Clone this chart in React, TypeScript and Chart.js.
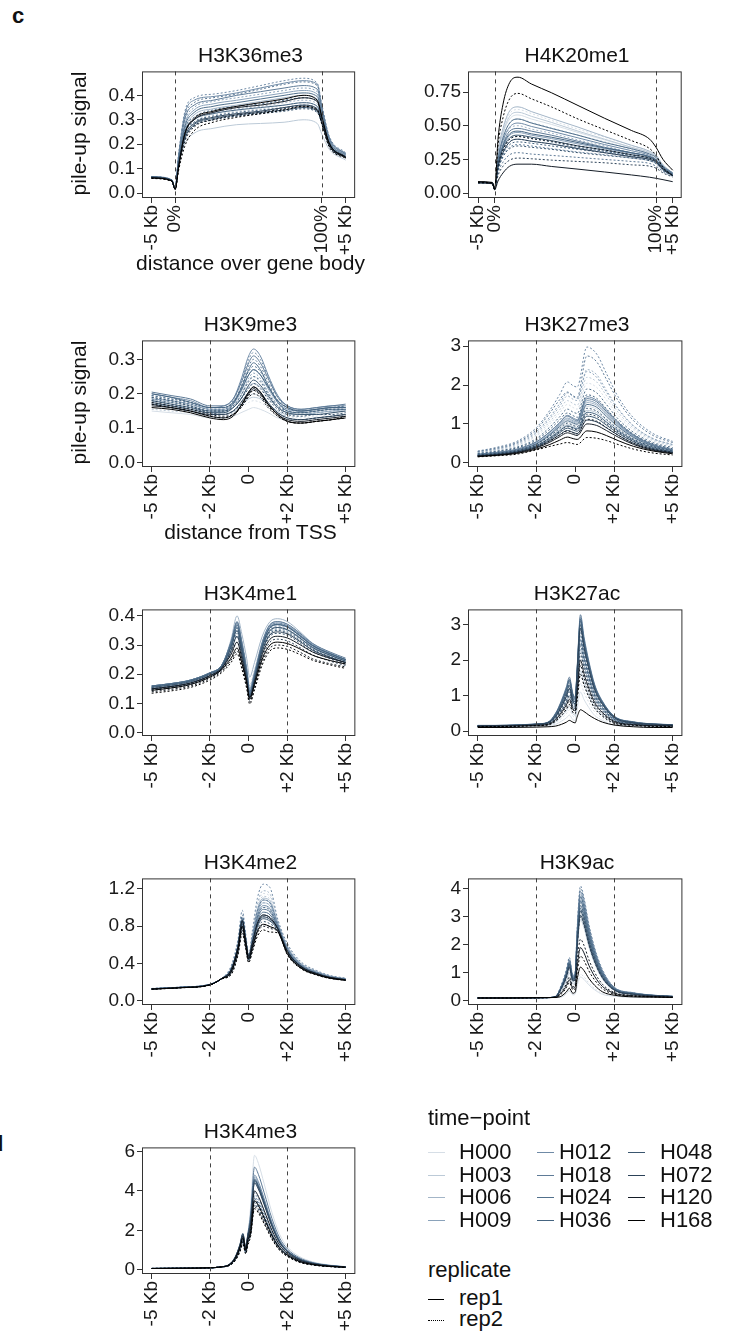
import React, { useEffect, useRef } from 'react';
import { Chart, registerables } from 'chart.js';

Chart.register(...registerables);

const FONT = '"Liberation Sans", Arial, Helvetica, sans-serif';

const TIME_POINTS = ['H000', 'H003', 'H006', 'H009', 'H012', 'H018', 'H024', 'H036', 'H048', 'H072', 'H120', 'H168'];
const REPLICATES = ['rep1', 'rep2'];
const TP_COLORS = ['#d6dee6', '#bccad7', '#a3b5c7', '#8aa2ba', '#6f8aa6', '#5f7b97', '#51708c', '#456480', '#3a566f', '#2c4258', '#141c26', '#000000'];

const TSS_TICKS = [-5, -2, 0, 2, 5];
const TSS_LABELS = ['-5 Kb', '-2 Kb', '0', '+2 Kb', '+5 Kb'];
const BODY_LABELS = ['-5 Kb', '0%', '100%', '+5 Kb'];
const BODY1_TICKS = [0, 5, 36, 41];
const BODY2_TICKS = [0, 5, 53.4, 58.4];

// ---------- H3K36me3 (gene body) ----------
const X_H3K36ME3 = [0, 4.3, 5, 5.7, 7, 9, 13, 18, 23, 28, 32, 35, 36, 37.5, 41];
const Y_H3K36ME3 = [0, 0.1, 0.2, 0.3, 0.4];
const H3K36ME3 = [
  [.068, .055, .02, .12, .23, .28, .31, .325, .335, .35, .36, .345, .29, .2, .15],
  [.066, .054, .019, .13, .25, .31, .34, .355, .365, .38, .39, .375, .31, .21, .155],
  [.065, .052, .017, .11, .2, .245, .265, .28, .285, .29, .30, .285, .24, .18, .135],
  [.067, .055, .02, .12, .24, .29, .32, .335, .345, .36, .37, .355, .3, .2, .15],
  [.066, .053, .018, .13, .26, .32, .345, .36, .375, .39, .40, .385, .32, .21, .155],
  [.068, .054, .02, .12, .24, .3, .33, .345, .355, .37, .38, .365, .31, .205, .15],
  [.067, .054, .019, .14, .28, .34, .365, .38, .395, .41, .42, .405, .33, .215, .16],
  [.065, .052, .018, .14, .29, .35, .375, .39, .405, .42, .43, .415, .335, .22, .16],
  [.066, .053, .019, .15, .32, .38, .395, .41, .43, .45, .46, .445, .35, .23, .16],
  [.068, .055, .02, .15, .33, .39, .405, .42, .44, .46, .47, .45, .36, .235, .165],
  [.067, .054, .019, .14, .3, .36, .38, .4, .415, .43, .44, .425, .345, .225, .16],
  [.066, .053, .018, .15, .31, .37, .39, .405, .425, .445, .455, .44, .35, .23, .16],
  [.064, .052, .017, .13, .27, .33, .355, .37, .385, .40, .41, .395, .325, .215, .155],
  [.065, .052, .018, .13, .26, .31, .34, .355, .365, .38, .39, .375, .315, .21, .15],
  [.066, .053, .018, .12, .25, .3, .325, .34, .35, .36, .37, .355, .3, .205, .15],
  [.065, .052, .018, .12, .24, .29, .315, .33, .34, .35, .36, .345, .295, .2, .148],
  [.064, .051, .017, .11, .22, .28, .305, .32, .33, .34, .35, .335, .29, .2, .146],
  [.063, .05, .017, .11, .22, .275, .3, .315, .325, .335, .345, .33, .285, .195, .145],
  [.065, .052, .017, .11, .23, .285, .31, .325, .335, .35, .36, .345, .29, .2, .147],
  [.064, .051, .017, .1, .22, .275, .3, .315, .325, .34, .35, .335, .285, .195, .145],
  [.062, .05, .016, .11, .24, .3, .33, .35, .36, .375, .39, .375, .305, .205, .148],
  [.061, .049, .016, .1, .21, .27, .3, .32, .33, .345, .355, .34, .285, .195, .143],
  [.062, .05, .016, .1, .24, .305, .335, .355, .37, .385, .40, .38, .31, .205, .145],
  [.06, .048, .015, .09, .19, .255, .29, .31, .325, .34, .355, .34, .28, .19, .142],
];

// ---------- H4K20me1 (gene body) ----------
const X_H4K20ME1 = [0, 4.3, 5, 6, 7.5, 9.5, 12, 16, 22, 30, 38, 46, 51.5, 53.4, 55.5, 58.4];
const Y_H4K20ME1 = [0, 0.25, 0.5, 0.75];
const H4K20ME1 = [
  [.08, .074, .03, .27, .44, .55, .58, .55, .51, .45, .395, .34, .30, .27, .2, .145],
  [.075, .07, .028, .29, .47, .59, .62, .59, .54, .475, .415, .355, .31, .28, .21, .15],
  [.078, .073, .03, .28, .45, .57, .60, .57, .525, .46, .4, .34, .30, .27, .2, .145],
  [.077, .072, .029, .26, .42, .52, .55, .525, .485, .43, .38, .325, .29, .26, .195, .14],
  [.08, .075, .03, .3, .48, .61, .64, .605, .555, .49, .42, .355, .31, .28, .21, .15],
  [.076, .071, .028, .23, .38, .48, .50, .475, .445, .395, .35, .3, .27, .245, .185, .135],
  [.078, .073, .029, .21, .34, .43, .45, .43, .405, .365, .33, .295, .27, .245, .19, .145],
  [.078, .073, .03, .19, .3, .38, .40, .385, .365, .335, .31, .28, .26, .24, .185, .14],
  [.079, .074, .03, .24, .39, .49, .52, .495, .46, .41, .36, .315, .28, .25, .19, .14],
  [.077, .072, .029, .17, .27, .34, .36, .35, .33, .305, .285, .26, .24, .22, .17, .13],
  [.08, .075, .03, .22, .36, .46, .48, .46, .43, .385, .34, .3, .27, .245, .19, .14],
  [.076, .071, .028, .15, .23, .285, .30, .29, .28, .265, .25, .235, .22, .2, .16, .125],
  [.082, .077, .031, .25, .41, .52, .55, .52, .48, .43, .375, .33, .29, .265, .2, .15],
  [.077, .072, .029, .2, .32, .4, .42, .405, .38, .34, .31, .275, .25, .23, .175, .13],
  [.081, .076, .031, .21, .35, .44, .46, .44, .415, .375, .335, .3, .27, .245, .19, .14],
  [.079, .074, .03, .18, .29, .36, .38, .37, .35, .325, .3, .27, .25, .23, .18, .135],
  [.079, .074, .03, .2, .33, .41, .43, .415, .39, .35, .32, .285, .26, .24, .18, .135],
  [.078, .073, .03, .17, .27, .33, .35, .34, .325, .3, .28, .26, .24, .22, .17, .13],
  [.081, .076, .031, .19, .3, .38, .40, .385, .365, .33, .3, .27, .25, .23, .175, .13],
  [.079, .074, .03, .13, .2, .245, .26, .255, .245, .235, .225, .21, .20, .185, .15, .12],
  [.075, .07, .025, .09, .15, .2, .215, .215, .198, .178, .157, .135, .118, .11, .1, .085],
  [.08, .075, .03, .2, .32, .4, .42, .405, .385, .35, .32, .285, .26, .235, .18, .13],
  [.085, .08, .03, .4, .66, .82, .86, .81, .745, .65, .555, .465, .40, .34, .25, .17],
  [.08, .076, .028, .35, .56, .70, .74, .70, .64, .55, .47, .39, .33, .28, .19, .13],
];

// ---------- H3K9me3 (TSS) ----------
const X_H3K9ME3 = [-5, -4, -3, -2, -1.3, -0.8, -0.4, 0, 0.25, 0.6, 1, 1.5, 2, 2.7, 3.5, 4.3, 5];
const Y_H3K9ME3 = [0, 0.1, 0.2, 0.3];
const H3K9ME3 = [
  [.15, .145, .14, .13, .13, .135, .145, .155, .16, .155, .145, .13, .125, .125, .13, .135, .14],
  [.16, .155, .15, .14, .14, .145, .16, .175, .18, .175, .16, .145, .135, .13, .135, .14, .145],
  [.17, .165, .155, .145, .145, .15, .165, .185, .19, .185, .17, .15, .14, .14, .145, .15, .15],
  [.155, .15, .145, .135, .135, .145, .165, .19, .20, .19, .17, .15, .135, .135, .14, .145, .15],
  [.18, .175, .165, .15, .15, .16, .185, .22, .23, .22, .19, .16, .145, .14, .145, .15, .155],
  [.19, .18, .17, .155, .155, .165, .195, .24, .25, .24, .205, .17, .15, .145, .15, .155, .16],
  [.185, .18, .17, .155, .155, .17, .205, .255, .27, .255, .215, .175, .155, .15, .155, .16, .16],
  [.17, .165, .16, .145, .145, .16, .195, .245, .26, .245, .205, .165, .145, .14, .145, .15, .155],
  [.2, .19, .18, .16, .165, .185, .24, .31, .33, .31, .255, .195, .165, .155, .16, .165, .165],
  [.195, .185, .175, .16, .16, .18, .235, .3, .32, .3, .25, .19, .16, .15, .155, .16, .165],
  [.205, .195, .185, .165, .165, .185, .23, .29, .31, .29, .245, .19, .165, .155, .16, .165, .17],
  [.19, .18, .17, .155, .155, .175, .22, .28, .30, .28, .235, .18, .155, .15, .155, .16, .16],
  [.18, .17, .16, .15, .15, .17, .215, .27, .29, .27, .225, .175, .15, .145, .15, .155, .155],
  [.195, .185, .175, .16, .16, .175, .215, .265, .28, .265, .225, .18, .16, .15, .155, .16, .165],
  [.2, .19, .175, .16, .16, .175, .21, .255, .27, .255, .22, .18, .16, .15, .155, .16, .16],
  [.185, .175, .165, .15, .15, .165, .195, .235, .25, .235, .2, .165, .15, .145, .15, .155, .155],
  [.175, .165, .155, .145, .145, .16, .185, .225, .24, .225, .195, .16, .145, .14, .14, .145, .15],
  [.19, .18, .165, .15, .15, .16, .185, .215, .23, .215, .185, .155, .14, .135, .14, .14, .145],
  [.17, .16, .15, .14, .14, .15, .175, .205, .22, .205, .175, .145, .13, .125, .13, .135, .14],
  [.18, .17, .16, .145, .14, .15, .17, .2, .21, .2, .17, .145, .13, .125, .13, .135, .14],
  [.165, .16, .15, .135, .13, .14, .165, .2, .215, .2, .17, .14, .125, .12, .125, .13, .135],
  [.175, .165, .155, .14, .135, .14, .16, .19, .20, .19, .16, .135, .12, .115, .12, .125, .13],
  [.16, .155, .145, .13, .125, .135, .165, .205, .22, .205, .17, .14, .12, .115, .12, .125, .13],
  [.17, .16, .15, .135, .13, .14, .16, .195, .21, .195, .165, .135, .12, .115, .12, .125, .135],
];

// ---------- H3K27me3 (TSS) ----------
const X_H3K27ME3 = [-5, -4, -3, -2, -1.3, -0.8, -0.4, -0.1, 0.1, 0.6, 1.1, 1.6, 2.2, 3, 4, 5];
const Y_H3K27ME3 = [0, 1, 2, 3];
const H3K27ME3 = [
  [.2, .24, .31, .47, .7, .9, 1.05, .99, .96, 1.45, 1.38, 1.17, .9, .63, .42, .3],
  [.25, .32, .43, .68, 1.0, 1.28, 1.5, 1.42, 1.38, 2.05, 1.94, 1.62, 1.22, .84, .56, .42],
  [.19, .23, .3, .45, .66, .85, .98, .93, .9, 1.35, 1.29, 1.1, .85, .6, .4, .29],
  [.26, .33, .45, .72, 1.06, 1.36, 1.6, 1.52, 1.48, 2.2, 2.08, 1.73, 1.3, .89, .59, .44],
  [.2, .25, .32, .5, .74, .96, 1.12, 1.05, 1.02, 1.55, 1.48, 1.25, .96, .67, .44, .32],
  [.27, .35, .48, .76, 1.13, 1.45, 1.72, 1.63, 1.6, 2.4, 2.27, 1.87, 1.4, .95, .62, .46],
  [.2, .25, .32, .5, .75, .98, 1.15, 1.08, 1.05, 1.6, 1.52, 1.28, .98, .68, .45, .32],
  [.28, .36, .5, .8, 1.18, 1.52, 1.8, 1.7, 1.65, 2.35, 2.2, 1.82, 1.38, .94, .62, .47],
  [.21, .26, .34, .53, .8, 1.03, 1.22, 1.15, 1.11, 1.7, 1.61, 1.36, 1.04, .72, .47, .34],
  [.3, .4, .55, .9, 1.35, 1.75, 2.08, 1.98, 1.95, 2.98, 2.8, 2.3, 1.7, 1.15, .75, .55],
  [.22, .27, .35, .54, .79, 1.02, 1.2, 1.12, 1.08, 1.65, 1.57, 1.32, 1.01, .7, .46, .33],
  [.29, .38, .52, .85, 1.28, 1.62, 1.82, 1.72, 1.68, 2.75, 2.6, 2.15, 1.6, 1.08, .7, .52],
  [.19, .24, .31, .48, .72, .93, 1.08, 1.02, .99, 1.5, 1.43, 1.2, .93, .65, .43, .31],
  [.24, .3, .4, .62, .92, 1.18, 1.38, 1.3, 1.27, 1.9, 1.8, 1.5, 1.13, .78, .52, .39],
  [.18, .22, .29, .44, .64, .82, .95, .9, .87, 1.3, 1.24, 1.05, .82, .58, .39, .28],
  [.23, .29, .38, .58, .86, 1.1, 1.28, 1.21, 1.17, 1.75, 1.66, 1.39, 1.06, .73, .49, .36],
  [.18, .22, .28, .42, .6, .77, .89, .84, .81, 1.2, 1.14, .97, .76, .54, .36, .27],
  [.2, .25, .32, .48, .69, .88, 1.02, .96, .93, 1.4, 1.33, 1.12, .87, .61, .41, .3],
  [.17, .21, .27, .4, .57, .72, .83, .78, .75, 1.1, 1.05, .9, .71, .5, .34, .26],
  [.19, .23, .3, .44, .63, .8, .93, .88, .85, 1.25, 1.19, 1.01, .79, .55, .37, .28],
  [.17, .2, .26, .38, .53, .67, .77, .73, .7, 1.0, .96, .83, .66, .47, .32, .25],
  [.18, .21, .27, .4, .56, .71, .82, .77, .74, 1.12, 1.07, .91, .71, .5, .34, .26],
  [.16, .19, .24, .35, .47, .58, .66, .62, .6, .82, .79, .7, .57, .42, .3, .23],
  [.15, .18, .22, .33, .42, .48, .52, .49, .47, .65, .63, .57, .47, .35, .25, .2],
];

// ---------- H3K4me1 (TSS) ----------
const X_H3K4ME1 = [-5, -4, -3, -2, -1.4, -0.9, -0.6, -0.35, -0.1, 0.05, 0.3, 0.7, 1.1, 1.5, 2, 2.6, 3.3, 4.2, 5];
const Y_H3K4ME1 = [0, 0.1, 0.2, 0.3, 0.4];
const H3K4ME1 = [
  [.15, .158, .17, .195, .22, .292, .35, .293, .217, .16, .21, .30, .35, .36, .352, .324, .288, .26, .24],
  [.145, .153, .165, .19, .215, .284, .34, .28, .2, .14, .193, .287, .34, .35, .342, .316, .281, .255, .235],
  [.15, .158, .17, .195, .22, .303, .37, .304, .216, .15, .205, .304, .36, .37, .361, .333, .295, .266, .245],
  [.15, .158, .17, .195, .22, .297, .36, .296, .21, .145, .199, .296, .35, .36, .352, .324, .288, .26, .24],
  [.155, .163, .175, .2, .225, .321, .40, .337, .253, .19, .24, .33, .38, .39, .38, .348, .306, .274, .25],
  [.15, .158, .17, .195, .22, .308, .38, .314, .226, .16, .214, .31, .365, .375, .366, .336, .297, .267, .245],
  [.16, .168, .18, .205, .23, .313, .38, .311, .219, .15, .208, .311, .37, .38, .371, .341, .302, .272, .25],
  [.155, .163, .175, .2, .225, .305, .37, .301, .209, .14, .198, .301, .36, .37, .361, .333, .295, .266, .245],
  [.16, .168, .18, .205, .23, .311, .375, .304, .211, .14, .199, .304, .365, .375, .366, .338, .3, .271, .25],
  [.155, .163, .175, .2, .225, .302, .365, .296, .204, .135, .193, .296, .355, .365, .357, .329, .293, .265, .245],
  [.16, .168, .18, .205, .23, .313, .38, .308, .212, .14, .2, .308, .37, .38, .371, .343, .305, .276, .255],
  [.155, .163, .175, .2, .225, .299, .36, .291, .199, .13, .188, .291, .35, .36, .352, .326, .291, .265, .245],
  [.16, .168, .18, .205, .23, .307, .37, .3, .206, .135, .194, .3, .36, .37, .362, .334, .298, .27, .25],
  [.15, .158, .17, .195, .22, .292, .35, .283, .193, .125, .183, .286, .345, .355, .347, .32, .286, .26, .24],
  [.158, .166, .178, .203, .228, .3, .36, .291, .199, .13, .19, .297, .36, .37, .362, .334, .298, .27, .25],
  [.15, .158, .17, .195, .22, .286, .34, .274, .186, .12, .178, .281, .34, .35, .342, .317, .284, .259, .24],
  [.155, .163, .175, .2, .225, .294, .35, .283, .193, .125, .184, .29, .35, .36, .352, .326, .291, .265, .245],
  [.148, .156, .168, .193, .218, .279, .33, .267, .183, .12, .175, .274, .33, .34, .333, .309, .277, .253, .235],
  [.15, .158, .17, .195, .22, .281, .33, .267, .183, .12, .176, .278, .335, .345, .338, .314, .282, .258, .24],
  [.145, .153, .165, .19, .215, .267, .31, .25, .17, .11, .163, .257, .31, .32, .314, .293, .266, .245, .23],
  [.15, .158, .17, .195, .22, .27, .31, .253, .177, .12, .173, .267, .32, .33, .324, .303, .276, .255, .24],
  [.14, .148, .16, .185, .21, .249, .28, .228, .158, .105, .154, .242, .29, .30, .295, .277, .253, .236, .225],
  [.145, .153, .165, .19, .215, .256, .29, .238, .168, .115, .164, .252, .30, .31, .305, .288, .265, .247, .235],
  [.135, .143, .155, .18, .205, .241, .27, .218, .15, .098, .146, .232, .28, .29, .285, .269, .248, .232, .22],
];

// ---------- H3K27ac (TSS) ----------
const X_H3K27AC = [-5, -3.5, -2, -1.4, -1, -0.7, -0.45, -0.3, -0.12, 0, 0.1, 0.27, 0.45, 0.7, 1, 1.4, 2, 3, 4, 5];
const Y_H3K27AC = [0, 1, 2, 3];
const H3K27AC = [
  [.11, .12, .13, .15, .19, .28, .37, .45, .32, .3, .61, 1.1, .89, .66, .44, .3, .16, .13, .11, .11],
  [.12, .12, .14, .16, .23, .36, .49, .6, .42, .39, .74, 1.35, 1.09, .81, .54, .36, .19, .14, .12, .12],
  [.12, .13, .15, .18, .26, .42, .57, .7, .49, .45, .94, 1.7, 1.38, 1.02, .68, .45, .23, .16, .14, .13],
  [.12, .13, .15, .17, .28, .44, .62, .75, .53, .49, .88, 1.6, 1.3, .96, .64, .42, .22, .16, .13, .13],
  [.14, .14, .17, .2, .35, .58, .82, 1.0, .7, .64, 1.27, 2.3, 1.86, 1.38, .92, .6, .31, .2, .16, .15],
  [.13, .14, .16, .19, .34, .55, .78, .95, .67, .61, 1.16, 2.1, 1.7, 1.26, .84, .55, .28, .19, .15, .14],
  [.14, .15, .18, .22, .41, .69, .98, 1.2, .84, .76, 1.43, 2.6, 2.11, 1.56, 1.04, .67, .34, .22, .17, .16],
  [.14, .14, .17, .21, .38, .64, .9, 1.1, .77, .7, 1.32, 2.4, 1.94, 1.44, .96, .62, .32, .2, .17, .15],
  [.15, .16, .2, .24, .49, .83, 1.19, 1.45, 1.02, .92, 1.76, 3.2, 2.59, 1.92, 1.28, .82, .41, .25, .2, .18],
  [.15, .15, .18, .23, .44, .75, 1.07, 1.3, .91, .83, 1.54, 2.8, 2.27, 1.68, 1.12, .72, .37, .23, .18, .16],
  [.16, .16, .2, .25, .51, .87, 1.25, 1.52, 1.06, .96, 1.8, 3.28, 2.66, 1.97, 1.31, .84, .42, .26, .2, .18],
  [.15, .15, .19, .23, .46, .77, 1.11, 1.35, .95, .86, 1.6, 2.9, 2.35, 1.74, 1.16, .75, .38, .23, .19, .17],
  [.15, .16, .19, .24, .47, .8, 1.15, 1.4, .98, .89, 1.71, 3.1, 2.51, 1.86, 1.24, .8, .4, .25, .19, .17],
  [.14, .15, .18, .22, .43, .72, 1.03, 1.25, .88, .8, 1.49, 2.7, 2.19, 1.62, 1.08, .7, .35, .22, .18, .16],
  [.15, .16, .19, .24, .49, .83, 1.19, 1.45, 1.02, .92, 1.73, 3.15, 2.55, 1.89, 1.26, .81, .41, .25, .2, .17],
  [.14, .15, .18, .22, .41, .69, .98, 1.2, .84, .76, 1.4, 2.55, 2.07, 1.53, 1.02, .66, .34, .21, .17, .16],
  [.15, .16, .19, .24, .44, .75, 1.07, 1.3, .91, .83, 1.65, 3.0, 2.43, 1.8, 1.2, .77, .39, .24, .19, .17],
  [.14, .14, .17, .21, .38, .64, .9, 1.1, .77, .7, 1.35, 2.45, 1.98, 1.47, .98, .63, .32, .21, .17, .15],
  [.15, .15, .19, .23, .41, .69, .98, 1.2, .84, .76, 1.6, 2.9, 2.35, 1.74, 1.16, .75, .38, .23, .19, .17],
  [.13, .14, .17, .2, .35, .58, .82, 1.0, .7, .64, 1.21, 2.2, 1.78, 1.32, .88, .57, .29, .19, .16, .15],
  [.13, .14, .16, .19, .32, .53, .74, .9, .63, .58, 1.1, 2.0, 1.62, 1.2, .8, .52, .27, .18, .15, .14],
  [.13, .13, .16, .18, .31, .5, .7, .85, .6, .55, 1.02, 1.85, 1.5, 1.11, .74, .48, .25, .17, .14, .14],
  [.1, .1, .11, .12, .14, .19, .25, .3, .25, .23, .4, .6, .55, .45, .35, .25, .17, .12, .1, .1],
  [.12, .13, .15, .17, .28, .44, .62, .75, .53, .49, .88, 1.6, 1.3, .96, .64, .42, .22, .16, .13, .13],
];

// ---------- H3K4me2 (TSS) ----------
const X_H3K4ME2 = [-5, -3.5, -2, -1.4, -0.9, -0.55, -0.33, -0.15, 0, 0.2, 0.45, 0.75, 1.1, 1.5, 2, 2.7, 3.5, 4.2, 5];
const Y_H3K4ME2 = [0, 0.4, 0.8, 1.2];
const H3K4ME2 = [
  [.13, .145, .175, .235, .293, .51, .75, .574, .43, .63, .886, 1.0, .97, .8, .55, .38, .3, .255, .23],
  [.13, .145, .175, .236, .312, .544, .8, .608, .45, .695, 1.01, 1.15, 1.116, .845, .588, .403, .315, .265, .238],
  [.128, .143, .173, .236, .304, .53, .78, .593, .44, .65, .928, 1.05, 1.019, .815, .563, .388, .305, .258, .233],
  [.13, .146, .176, .236, .32, .558, .82, .622, .46, .692, .988, 1.12, 1.086, .836, .58, .398, .312, .263, .236],
  [.131, .146, .177, .236, .312, .544, .8, .608, .45, .678, .97, 1.1, 1.067, .83, .575, .395, .31, .262, .235],
  [.132, .147, .178, .237, .332, .578, .85, .65, .47, .72, 1.038, 1.18, 1.145, .854, .595, .407, .318, .267, .239],
  [.13, .145, .175, .237, .324, .564, .83, .627, .46, .677, .956, 1.08, 1.048, .824, .57, .392, .308, .26, .234],
  [.131, .146, .176, .238, .351, .612, .9, .664, .47, .674, .934, 1.05, 1.019, .815, .563, .388, .305, .258, .233],
  [.13, .145, .175, .237, .335, .585, .86, .64, .46, .653, .908, 1.02, .989, .806, .555, .383, .302, .256, .231],
  [.132, .147, .178, .239, .378, .66, .97, .712, .5, .763, 1.1, 1.25, 1.213, .875, .613, .418, .325, .271, .243],
  [.129, .144, .174, .238, .343, .598, .88, .655, .47, .651, .879, .98, .951, .794, .545, .377, .298, .254, .229],
  [.13, .145, .175, .238, .359, .626, .92, .678, .48, .692, .96, 1.08, 1.048, .824, .57, .392, .308, .26, .234],
  [.129, .144, .174, .237, .332, .578, .85, .636, .46, .63, .852, .95, .922, .785, .538, .373, .295, .252, .228],
  [.13, .145, .175, .238, .351, .612, .9, .664, .47, .656, .894, 1.0, .97, .8, .55, .38, .3, .255, .23],
  [.128, .143, .173, .237, .339, .592, .87, .65, .47, .627, .83, .92, .892, .776, .53, .368, .292, .25, .226],
  [.128, .143, .173, .237, .328, .571, .84, .617, .45, .607, .81, .9, .873, .77, .525, .365, .29, .249, .225],
  [.127, .142, .172, .236, .32, .558, .82, .608, .45, .6, .794, .88, .854, .764, .52, .362, .288, .247, .224],
  [.127, .142, .172, .236, .312, .544, .8, .602, .44, .583, .768, .85, .825, .755, .513, .358, .285, .245, .223],
  [.128, .143, .173, .237, .332, .578, .85, .636, .46, .614, .812, .9, .873, .77, .525, .365, .29, .249, .225],
  [.127, .142, .171, .236, .304, .53, .78, .588, .43, .564, .742, .82, .795, .746, .505, .353, .282, .243, .221],
  [.126, .141, .171, .237, .335, .585, .86, .651, .48, .63, .832, .92, .892, .776, .53, .368, .292, .25, .226],
  [.125, .14, .17, .235, .296, .517, .76, .573, .42, .547, .724, .8, .776, .74, .5, .35, .28, .242, .22],
  [.125, .14, .17, .236, .312, .544, .8, .608, .45, .58, .746, .82, .795, .746, .505, .353, .282, .243, .221],
  [.124, .139, .169, .234, .281, .49, .72, .55, .41, .533, .69, .76, .737, .728, .49, .344, .276, .239, .218],
];

// ---------- H3K9ac (TSS) ----------
const X_H3K9AC = [-5, -3.5, -2, -1.4, -1, -0.7, -0.45, -0.3, -0.12, 0, 0.1, 0.27, 0.45, 0.7, 1, 1.4, 2, 3, 4, 5];
const Y_H3K9AC = [0, 1, 2, 3, 4];
const H3K9AC = [
  [.1, .1, .11, .115, .114, .133, .252, .35, .21, .238, .536, .85, .765, .57, .391, .23, .165, .123, .121, .113],
  [.1, .1, .11, .115, .116, .152, .288, .4, .24, .272, .599, .95, .855, .637, .437, .257, .175, .128, .124, .114],
  [.1, .1, .11, .115, .14, .38, .72, 1.0, .6, .68, 1.83, 2.9, 2.61, 1.94, 1.33, .78, .37, .23, .17, .14],
  [.1, .1, .11, .115, .144, .42, .79, 1.1, .66, .75, 1.95, 3.1, 2.79, 2.08, 1.43, .84, .39, .24, .18, .15],
  [.1, .1, .11, .115, .148, .46, .86, 1.2, .72, .82, 2.08, 3.3, 2.97, 2.21, 1.52, .89, .41, .25, .18, .15],
  [.1, .1, .11, .115, .15, .48, .9, 1.25, .75, .85, 2.21, 3.5, 3.15, 2.35, 1.61, .95, .43, .26, .19, .15],
  [.1, .1, .11, .115, .152, .49, .94, 1.3, .78, .88, 2.27, 3.6, 3.24, 2.41, 1.66, .97, .44, .26, .19, .15],
  [.1, .1, .11, .115, .154, .51, .97, 1.35, .81, .92, 2.39, 3.8, 3.42, 2.55, 1.75, 1.03, .46, .27, .2, .16],
  [.1, .1, .11, .115, .158, .55, 1.04, 1.45, .87, .99, 2.46, 3.9, 3.51, 2.61, 1.79, 1.05, .47, .28, .2, .16],
  [.1, .1, .11, .115, .162, .59, 1.12, 1.55, .93, 1.05, 2.58, 4.1, 3.69, 2.75, 1.89, 1.11, .49, .29, .2, .16],
  [.1, .1, .11, .115, .156, .53, 1.01, 1.4, .84, .95, 2.33, 3.7, 3.33, 2.48, 1.7, 1.0, .45, .27, .19, .16],
  [.1, .1, .11, .115, .16, .57, 1.08, 1.5, .9, 1.02, 2.52, 4.0, 3.6, 2.68, 1.84, 1.08, .48, .28, .2, .16],
  [.1, .1, .11, .115, .154, .51, .97, 1.35, .81, .92, 2.24, 3.55, 3.2, 2.38, 1.63, .96, .44, .26, .19, .15],
  [.1, .1, .11, .115, .156, .53, 1.01, 1.4, .84, .95, 2.36, 3.75, 3.38, 2.51, 1.73, 1.01, .46, .27, .19, .16],
  [.1, .1, .11, .115, .152, .49, .94, 1.3, .78, .88, 2.14, 3.4, 3.06, 2.28, 1.56, .92, .42, .25, .19, .15],
  [.1, .1, .11, .115, .154, .51, .97, 1.35, .81, .92, 2.08, 3.3, 2.97, 2.21, 1.52, .89, .41, .25, .18, .15],
  [.1, .1, .11, .115, .15, .48, .9, 1.25, .75, .85, 2.02, 3.2, 2.88, 2.14, 1.47, .86, .4, .24, .18, .15],
  [.1, .1, .11, .115, .152, .49, .94, 1.3, .78, .88, 2.05, 3.25, 2.93, 2.18, 1.5, .88, .41, .24, .18, .15],
  [.1, .1, .11, .115, .148, .46, .86, 1.2, .72, .82, 1.92, 3.05, 2.75, 2.04, 1.4, .82, .39, .23, .18, .15],
  [.1, .1, .11, .115, .146, .44, .83, 1.15, .69, .78, 1.89, 3.0, 2.7, 2.01, 1.38, .81, .38, .23, .18, .15],
  [.1, .1, .11, .115, .13, .29, .54, .75, .45, .51, 1.2, 1.9, 1.71, 1.27, .87, .51, .27, .18, .15, .13],
  [.1, .1, .11, .115, .134, .32, .61, .85, .51, .58, 1.39, 2.2, 1.98, 1.47, 1.01, .59, .3, .19, .16, .13],
  [.1, .1, .11, .115, .118, .17, .32, .45, .27, .31, .76, 1.2, 1.08, .8, .55, .32, .2, .14, .13, .12],
  [.1, .1, .11, .115, .126, .25, .47, .65, .39, .44, 1.01, 1.6, 1.44, 1.07, .74, .43, .24, .16, .14, .12],
];

// ---------- H3K4me3 (TSS) ----------
const X_H3K4ME3 = [-5, -3.5, -2, -1.4, -1, -0.7, -0.45, -0.3, -0.15, -0.05, 0.1, 0.3, 0.5, 0.8, 1.2, 1.6, 2, 2.6, 3.3, 4.2, 5];
const Y_H3K4ME3 = [0, 2, 4, 6];
const H3K4ME3 = [
  [.07, .08, .105, .15, .246, .543, 1.085, 1.55, .961, 1.665, 3.19, 5.8, 5.394, 4.35, 2.9, 1.79, 1.164, .688, .408, .244, .167],
  [.07, .08, .105, .15, .24, .525, 1.05, 1.5, .93, 1.51, 2.53, 4.6, 4.278, 3.45, 2.3, 1.43, .948, .556, .336, .208, .149],
  [.07, .08, .105, .15, .234, .508, 1.015, 1.45, .899, 1.455, 2.42, 4.4, 4.092, 3.3, 2.2, 1.37, .912, .534, .324, .202, .146],
  [.07, .08, .105, .15, .228, .49, .98, 1.4, .868, 1.38, 2.2, 4.0, 3.72, 3.0, 2.0, 1.25, .84, .49, .3, .19, .14],
  [.07, .08, .105, .15, .24, .525, 1.05, 1.5, .93, 1.5, 2.475, 4.5, 4.185, 3.375, 2.25, 1.4, .93, .545, .33, .205, .148],
  [.07, .08, .105, .15, .222, .473, .945, 1.35, .837, 1.325, 2.09, 3.8, 3.534, 2.85, 1.9, 1.19, .804, .468, .288, .184, .137],
  [.07, .08, .105, .15, .246, .543, 1.085, 1.55, .961, 1.555, 2.585, 4.7, 4.371, 3.525, 2.35, 1.46, .966, .567, .342, .211, .151],
  [.07, .08, .105, .15, .228, .49, .98, 1.4, .868, 1.37, 2.145, 3.9, 3.627, 2.925, 1.95, 1.22, .822, .479, .294, .187, .139],
  [.07, .08, .105, .15, .258, .578, 1.155, 1.65, 1.023, 1.635, 2.64, 4.8, 4.464, 3.6, 2.4, 1.49, .984, .578, .348, .214, .152],
  [.07, .08, .105, .15, .234, .508, 1.015, 1.45, .899, 1.385, 2.035, 3.7, 3.441, 2.775, 1.85, 1.16, .786, .457, .282, .181, .136],
  [.07, .08, .105, .15, .276, .63, 1.26, 1.8, 1.116, 1.78, 2.86, 5.2, 4.836, 3.9, 2.6, 1.61, 1.056, .622, .372, .226, .158],
  [.07, .08, .105, .15, .24, .525, 1.05, 1.5, .93, 1.41, 1.98, 3.6, 3.348, 2.7, 1.8, 1.13, .768, .446, .276, .178, .134],
  [.07, .08, .105, .15, .264, .595, 1.19, 1.7, 1.054, 1.65, 2.53, 4.6, 4.278, 3.45, 2.3, 1.43, .948, .556, .336, .208, .149],
  [.07, .08, .105, .15, .234, .508, 1.015, 1.45, .899, 1.365, 1.925, 3.5, 3.255, 2.625, 1.75, 1.1, .75, .435, .27, .175, .133],
  [.07, .08, .105, .15, .27, .613, 1.225, 1.75, 1.085, 1.675, 2.475, 4.5, 4.185, 3.375, 2.25, 1.4, .93, .545, .33, .205, .148],
  [.07, .08, .105, .15, .24, .525, 1.05, 1.5, .93, 1.39, 1.87, 3.4, 3.162, 2.55, 1.7, 1.07, .732, .424, .264, .172, .131],
  [.07, .08, .105, .15, .282, .648, 1.295, 1.85, 1.147, 1.75, 2.503, 4.55, 4.232, 3.413, 2.275, 1.415, .939, .551, .333, .207, .148],
  [.07, .08, .105, .15, .246, .543, 1.085, 1.55, .961, 1.445, 1.98, 3.6, 3.348, 2.7, 1.8, 1.13, .768, .446, .276, .178, .134],
  [.07, .08, .105, .15, .276, .63, 1.26, 1.8, 1.116, 1.7, 2.42, 4.4, 4.092, 3.3, 2.2, 1.37, .912, .534, .324, .202, .146],
  [.07, .08, .105, .15, .24, .525, 1.05, 1.5, .93, 1.38, 1.815, 3.3, 3.069, 2.475, 1.65, 1.04, .714, .413, .258, .169, .13],
  [.07, .08, .105, .15, .264, .595, 1.19, 1.7, 1.054, 1.59, 2.2, 4.0, 3.72, 3.0, 2.0, 1.25, .84, .49, .3, .19, .14],
  [.07, .08, .105, .15, .228, .49, .98, 1.4, .868, 1.3, 1.76, 3.2, 2.976, 2.4, 1.6, 1.01, .696, .402, .252, .166, .128],
  [.07, .08, .105, .15, .252, .56, 1.12, 1.6, .992, 1.47, 1.925, 3.5, 3.255, 2.625, 1.75, 1.1, .75, .435, .27, .175, .133],
  [.07, .08, .105, .15, .216, .455, .91, 1.3, .806, 1.22, 1.705, 3.1, 2.883, 2.325, 1.55, .98, .678, .391, .246, .163, .127],
];

// ---------- layout ----------
const COL_LEFT = [142, 468];
const COL_W = [217, 218];
const ROW_TOP = [68, 337, 606, 875, 1144];
const PANEL_H = 130;
const PAD_L = 75, PAD_T = 10, PAD_R = 12, PAD_B = 70;

type Spec = {
  title: string; col: number; row: number; x: number[]; rows: number[][];
  xMin: number; xMax: number; xTicks: number[]; xLabels: string[]; vlines: number[];
  yMin: number; yMax: number; yTicks: number[]; yDigits: number;
};

const PANELS: Spec[] = [
  { title: 'H3K36me3', col: 0, row: 0, x: X_H3K36ME3, rows: H3K36ME3, xMin: -2, xMax: 43, xTicks: BODY1_TICKS, xLabels: BODY_LABELS, vlines: [5, 36], yMin: -0.02, yMax: 0.498, yTicks: Y_H3K36ME3, yDigits: 1 },
  { title: 'H4K20me1', col: 1, row: 0, x: X_H4K20ME1, rows: H4K20ME1, xMin: -3, xMax: 61.1, xTicks: BODY2_TICKS, xLabels: BODY_LABELS, vlines: [5, 53.4], yMin: -0.036, yMax: 0.903, yTicks: Y_H4K20ME1, yDigits: 2 },
  { title: 'H3K9me3', col: 0, row: 1, x: X_H3K9ME3, rows: H3K9ME3, xMin: -5.5, xMax: 5.5, xTicks: TSS_TICKS, xLabels: TSS_LABELS, vlines: [-2, 2], yMin: -0.0125, yMax: 0.355, yTicks: Y_H3K9ME3, yDigits: 1 },
  { title: 'H3K27me3', col: 1, row: 1, x: X_H3K27ME3, rows: H3K27ME3, xMin: -5.5, xMax: 5.5, xTicks: TSS_TICKS, xLabels: TSS_LABELS, vlines: [-2, 2], yMin: -0.11, yMax: 3.15, yTicks: Y_H3K27ME3, yDigits: 0 },
  { title: 'H3K4me1', col: 0, row: 2, x: X_H3K4ME1, rows: H3K4ME1, xMin: -5.5, xMax: 5.5, xTicks: TSS_TICKS, xLabels: TSS_LABELS, vlines: [-2, 2], yMin: -0.0114, yMax: 0.422, yTicks: Y_H3K4ME1, yDigits: 1 },
  { title: 'H3K27ac', col: 1, row: 2, x: X_H3K27AC, rows: H3K27AC, xMin: -5.5, xMax: 5.5, xTicks: TSS_TICKS, xLabels: TSS_LABELS, vlines: [-2, 2], yMin: -0.14, yMax: 3.43, yTicks: Y_H3K27AC, yDigits: 0 },
  { title: 'H3K4me2', col: 0, row: 3, x: X_H3K4ME2, rows: H3K4ME2, xMin: -5.5, xMax: 5.5, xTicks: TSS_TICKS, xLabels: TSS_LABELS, vlines: [-2, 2], yMin: -0.045, yMax: 1.312, yTicks: Y_H3K4ME2, yDigits: 1 },
  { title: 'H3K9ac', col: 1, row: 3, x: X_H3K9AC, rows: H3K9AC, xMin: -5.5, xMax: 5.5, xTicks: TSS_TICKS, xLabels: TSS_LABELS, vlines: [-2, 2], yMin: -0.15, yMax: 4.37, yTicks: Y_H3K9AC, yDigits: 0 },
  { title: 'H3K4me3', col: 0, row: 4, x: X_H3K4ME3, rows: H3K4ME3, xMin: -5.5, xMax: 5.5, xTicks: TSS_TICKS, xLabels: TSS_LABELS, vlines: [-2, 2], yMin: -0.21, yMax: 6.2, yTicks: Y_H3K4ME3, yDigits: 0 },
];

function Panel({ spec }: { spec: Spec }) {
  const ref = useRef<HTMLCanvasElement | null>(null);
  const left = COL_LEFT[spec.col];
  const top = ROW_TOP[spec.row];
  const w = COL_W[spec.col];
  const cw = w + PAD_L + PAD_R;
  const ch = PANEL_H + PAD_T + PAD_B;

  useEffect(() => {
    if (!ref.current) return;
    const datasets = spec.rows.map((vals, i) => {
      const tp = Math.floor(i / 2);
      const rep = i % 2;
      return {
        label: TIME_POINTS[tp] + ' ' + REPLICATES[rep],
        data: spec.x.map((xv, j) => ({ x: xv, y: vals[j] })),
        borderColor: TP_COLORS[tp],
        backgroundColor: TP_COLORS[tp],
        borderWidth: 1,
        borderDash: rep === 1 ? [2, 2] : [],
        pointRadius: 0,
        fill: false,
        cubicInterpolationMode: 'monotone' as const,
        order: 23 - i,
      };
    });
    const framePlugin = {
      id: 'frame' + spec.title,
      afterDatasetsDraw(chart: any) {
        const { ctx, chartArea: a, scales } = chart;
        ctx.save();
        ctx.strokeStyle = '#444';
        ctx.lineWidth = 1;
        ctx.setLineDash([4, 4]);
        for (const v of spec.vlines) {
          const px = Math.round(scales.x.getPixelForValue(v)) + 0.5;
          ctx.beginPath();
          ctx.moveTo(px, a.top);
          ctx.lineTo(px, a.bottom);
          ctx.stroke();
        }
        ctx.setLineDash([]);
        ctx.strokeStyle = '#333';
        ctx.strokeRect(a.left + 0.5, a.top + 0.5, a.right - a.left - 1, a.bottom - a.top - 1);
        ctx.restore();
      },
    };
    const tickFont = { family: FONT, size: 19 };
    const chart = new Chart(ref.current, {
      type: 'line',
      data: { datasets: datasets as any },
      options: {
        animation: false,
        responsive: false,
        maintainAspectRatio: false,
        events: [],
        layout: { padding: { top: PAD_T, right: PAD_R, left: 0, bottom: 0 } },
        plugins: { legend: { display: false }, tooltip: { enabled: false }, title: { display: false } },
        scales: {
          x: {
            type: 'linear',
            bounds: 'data',
            min: spec.xMin,
            max: spec.xMax,
            afterBuildTicks: (axis: any) => { axis.ticks = spec.xTicks.map((v) => ({ value: v })); },
            afterFit: (s: any) => { s.height = PAD_B; },
            ticks: {
              autoSkip: false,
              minRotation: 90,
              maxRotation: 90,
              padding: 2,
              color: '#1a1a1a',
              font: tickFont,
              callback: (_v: any, idx: number) => spec.xLabels[idx],
            },
            grid: { display: true, drawOnChartArea: false, drawTicks: true, tickLength: 5, color: '#333', lineWidth: 1 },
            border: { display: false },
          },
          y: {
            type: 'linear',
            bounds: 'data',
            min: spec.yMin,
            max: spec.yMax,
            afterBuildTicks: (axis: any) => { axis.ticks = spec.yTicks.map((v) => ({ value: v })); },
            afterFit: (s: any) => { s.width = PAD_L; },
            ticks: {
              autoSkip: false,
              padding: 2,
              color: '#1a1a1a',
              font: tickFont,
              callback: (v: any) => Number(v).toFixed(spec.yDigits),
            },
            grid: { display: true, drawOnChartArea: false, drawTicks: true, tickLength: 5, color: '#333', lineWidth: 1 },
            border: { display: false },
          },
        },
      } as any,
      plugins: [framePlugin],
    });
    return () => chart.destroy();
  }, []);

  return (
    <canvas
      ref={ref}
      width={cw}
      height={ch}
      style={{ position: 'absolute', left: left - PAD_L, top: top - PAD_T, width: cw, height: ch }}
    />
  );
}

function Txt({ x, baseline, size, children, center = false, bold = false }: any) {
  const style: any = {
    position: 'absolute',
    top: baseline - 0.8465 * size,
    fontSize: size,
    lineHeight: size + 'px',
    whiteSpace: 'nowrap',
    fontWeight: bold ? 700 : 400,
    color: '#111',
  };
  if (center) {
    style.left = x - 300;
    style.width = 600;
    style.textAlign = 'center';
  } else {
    style.left = x;
  }
  return <div style={style}>{children}</div>;
}

function VTxt({ cx, cy, size, children }: any) {
  return (
    <div
      style={{
        position: 'absolute', left: cx - 150, top: cy - size / 2, width: 300, height: size,
        lineHeight: size + 'px', fontSize: size, textAlign: 'center', whiteSpace: 'nowrap',
        transform: 'rotate(-90deg)', color: '#111',
      }}
    >
      {children}
    </div>
  );
}

const LEG_ROW_BASE = [1160, 1183, 1205, 1228];
const LEG_KEY_X = [428, 537, 628];
const LEG_TEXT_X = [459, 559, 660];

function Legend() {
  const items: any[] = [];
  TIME_POINTS.forEach((tp, i) => {
    const c = Math.floor(i / 4);
    const r = i % 4;
    items.push(
      <div key={'k' + tp} style={{ position: 'absolute', left: LEG_KEY_X[c], top: LEG_ROW_BASE[r] - 8.5, width: 17, height: 0, borderTop: '1px solid ' + TP_COLORS[i] }} />
    );
    items.push(<Txt key={'t' + tp} x={LEG_TEXT_X[c]} baseline={LEG_ROW_BASE[r]} size={22}>{tp}</Txt>);
  });
  return (
    <>
      <Txt x={428} baseline={1126} size={22}>time−point</Txt>
      {items}
      <Txt x={428} baseline={1278} size={22}>replicate</Txt>
      <div style={{ position: 'absolute', left: 428, top: 1299, width: 16, height: 0, borderTop: '1px solid #000' }} />
      <Txt x={459} baseline={1306} size={22}>{REPLICATES[0]}</Txt>
      <div style={{ position: 'absolute', left: 428, top: 1320, width: 16, height: 0, borderTop: '1px dotted #000' }} />
      <Txt x={459} baseline={1327} size={22}>{REPLICATES[1]}</Txt>
    </>
  );
}

export default function App() {
  return (
    <div style={{ position: 'absolute', left: 0, top: 0, width: 732, height: 1339, background: '#fff', overflow: 'hidden', fontFamily: FONT }}>
      <Txt x={12} baseline={23.5} size={22} bold>c</Txt>
      <Txt x={-10} baseline={1152} size={22} bold>d</Txt>
      {PANELS.map((p) => (
        <Panel key={p.title} spec={p} />
      ))}
      {PANELS.map((p) => (
        <Txt key={'title' + p.title} x={COL_LEFT[p.col] + COL_W[p.col] / 2} baseline={ROW_TOP[p.row] - 6.5} size={21} center>
          {p.title}
        </Txt>
      ))}
      <VTxt cx={78} cy={ROW_TOP[0] + PANEL_H / 2} size={21}>pile-up signal</VTxt>
      <VTxt cx={78} cy={ROW_TOP[1] + PANEL_H / 2} size={21}>pile-up signal</VTxt>
      <Txt x={COL_LEFT[0] + COL_W[0] / 2} baseline={270} size={21} center>distance over gene body</Txt>
      <Txt x={COL_LEFT[0] + COL_W[0] / 2} baseline={539} size={21} center>distance from TSS</Txt>
      <Legend />
    </div>
  );
}
